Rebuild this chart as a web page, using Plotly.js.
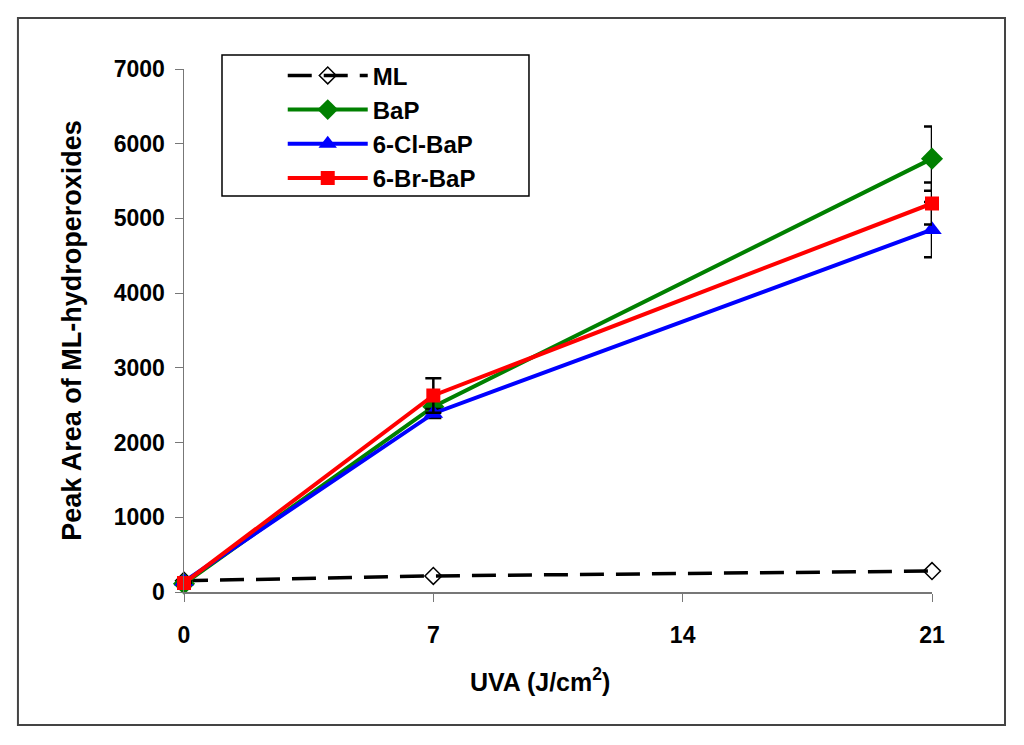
<!DOCTYPE html>
<html>
<head>
<meta charset="utf-8">
<script src="https://cdn.plot.ly/plotly-3.0.1.min.js"></script>
<style>body{margin:0;background:#fff;} #chart{width:1024px;height:745px;}</style>
</head>
<body>
<div id="chart"></div>
<script>
// UVA dose (J/cm2)
var uva = [0, 7, 21];
// peak area of ML-hydroperoxides per sample
var ml     = [150, 215, 280];
var bap    = [110, 2480, 5800];
var clBap  = [140, 2390, 4850];
var brBap  = [120, 2630, 5200];
// error bars (SD)
var bapErr = [0, 60, 430];
var clErr  = [0, 60, 370];
var brErr  = [0, 230, 280];
var xticks = [0, 7, 14, 21];

var F = 'Liberation Sans, Arial, sans-serif';

function errs(a) {
  return {type: 'data', array: a, visible: true, color: '#000', thickness: 2.5, width: 8};
}

var traces = [
  {x: uva, y: ml, name: 'ML', legendgroup: 'a', mode: 'lines+markers',
   line: {color: '#000', width: 3.5, dash: '24px,12px'},
   marker: {symbol: 'diamond-open', size: 13, color: '#000', line: {width: 1.5, color: '#000'}}},
  {x: uva, y: bap, name: 'BaP', legendgroup: 'b', mode: 'lines+markers', error_y: errs(bapErr),
   line: {color: '#008000', width: 4}, marker: {symbol: 'diamond', size: 17, color: '#008000'}},
  {x: uva, y: clBap, name: '6-Cl-BaP', legendgroup: 'c', mode: 'lines+markers', error_y: errs(clErr),
   line: {color: '#0000ff', width: 4}, marker: {symbol: 'triangle-up', size: 17, color: '#0000ff'}},
  {x: uva, y: brBap, name: '6-Br-BaP', legendgroup: 'd', mode: 'lines+markers', error_y: errs(brErr),
   line: {color: '#ff0000', width: 4}, marker: {symbol: 'square', size: 14, color: '#ff0000'}}
];
traces.forEach(function (t) { t.cliponaxis = false; });

var layout = {
  width: 1024, height: 745,
  margin: {l: 184, r: 92, t: 69, b: 153},
  paper_bgcolor: '#fff', plot_bgcolor: '#fff',
  font: {family: F, color: '#000', size: 23, weight: 'bold'},
  showlegend: true,
  legend: {x: 0.132, y: 1.03, xanchor: 'left', yanchor: 'top', bgcolor: 'rgba(0,0,0,0)',
           borderwidth: 0, itemwidth: 80, traceorder: 'grouped', tracegroupgap: 0,
           font: {family: F, size: 24, weight: 'bold', color: '#000'}},
  xaxis: {range: [0, 21], tickvals: xticks, ticktext: xticks.map(String),
          showline: true, linecolor: '#777', linewidth: 1.5, ticks: 'outside', ticklen: 8,
          tickcolor: '#777', showgrid: false, zeroline: false, ticklabelstandoff: 14,
          tickfont: {family: F, size: 23, weight: 'bold'}},
  yaxis: {range: [0, 7000], dtick: 1000, tickformat: 'd',
          showline: true, linecolor: '#777', linewidth: 1.5, ticks: 'outside', ticklen: 8,
          tickcolor: '#777', showgrid: false, zeroline: false, ticklabelstandoff: 5,
          tickfont: {family: F, size: 23, weight: 'bold'},
          title: {text: 'Peak Area of ML-hydroperoxides', standoff: 24, font: {family: F, size: 27, weight: 'bold'}}},
  annotations: [
    // x-axis title, placed a little left of centre as in the original
    {text: 'UVA (J/cm<sup>2</sup>)', xref: 'paper', yref: 'paper', x: 0.476, y: -0.168,
     xanchor: 'center', yanchor: 'middle', showarrow: false,
     font: {family: F, size: 25, weight: 'bold', color: '#000'}}
  ],
  shapes: [
    // outer frame
    {type: 'rect', xref: 'paper', yref: 'paper', x0: -0.222, x1: 1.0976, y0: -0.2543, y1: 1.0975,
     line: {color: '#444', width: 2}},
    // legend box
    {type: 'rect', xref: 'paper', yref: 'paper', x0: 0.0508, x1: 0.4612, y0: 0.757, y1: 1.0268,
     line: {color: '#000', width: 1.5}}
  ]
};

Plotly.newPlot('chart', traces, layout, {displayModeBar: false, staticPlot: true});
</script>
</body>
</html>
